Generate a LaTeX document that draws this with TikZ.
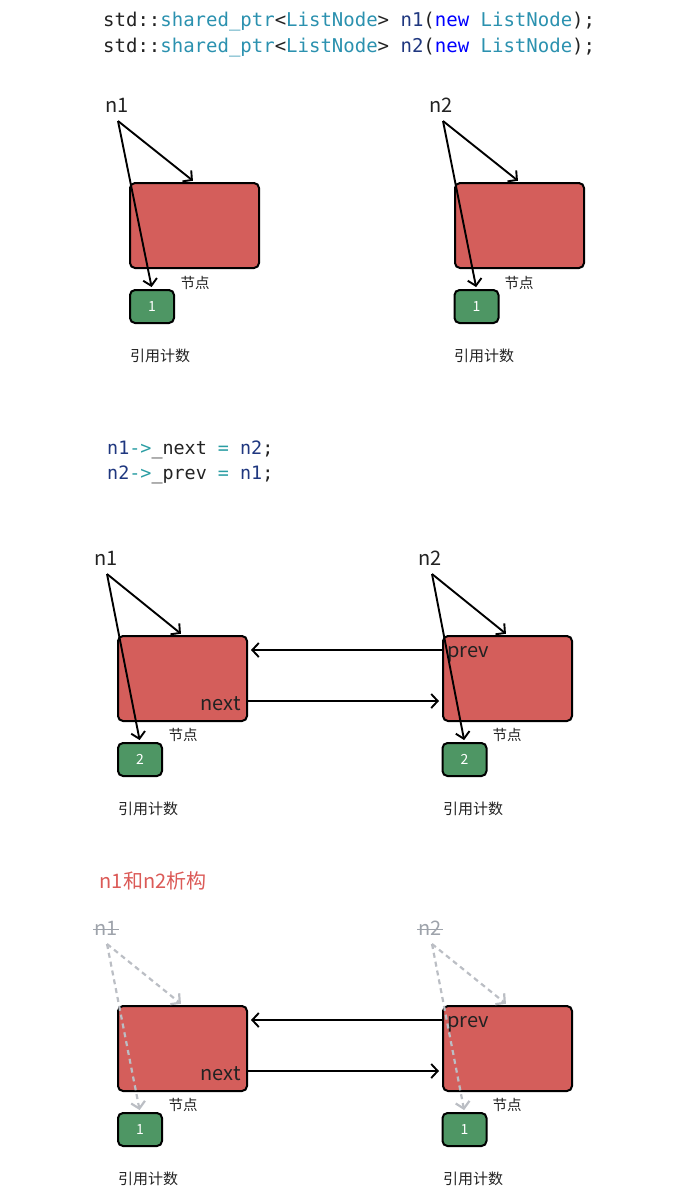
\documentclass[tikz,border=0pt]{standalone}
\usepackage{fontspec}
\setmainfont{Noto Sans CJK SC}
\newfontfamily\codefont{DejaVu Sans Mono}
\usetikzlibrary{arrows.meta}
\definecolor{nodered}{HTML}{D45E5B}
\definecolor{nodegreen}{HTML}{4E9664}
\definecolor{ctype}{HTML}{2B91AF}
\definecolor{cvar}{HTML}{1F377F}
\definecolor{ckw}{HTML}{0000FF}
\definecolor{cop}{HTML}{2A9DA3}
\definecolor{dgray}{HTML}{BBBEC4}
\definecolor{tgray}{HTML}{9EA3AB}
\definecolor{titlered}{HTML}{DB5A57}
\definecolor{ink}{HTML}{222222}
\tikzset{
  rednode/.style={draw=black, line width=2pt, fill=nodered, rounded corners=5pt, minimum width=129pt, minimum height=85pt, inner sep=0pt},
  cntbox/.style={draw=black, line width=2pt, fill=nodegreen, rounded corners=5pt, minimum width=44pt, minimum height=33pt, inner sep=0pt, text=white, font=\fontsize{14}{14}\selectfont},
  ptrlabel/.style={text=ink, font=\fontsize{20}{20}\selectfont, inner sep=0pt},
  fieldlabel/.style={text=ink, font=\fontsize{20}{20}\selectfont, inner sep=0pt},
  smalllabel/.style={text=ink, font=\fontsize{14.5}{14.5}\selectfont, inner sep=0pt},
  cntlabel/.style={text=ink, font=\fontsize{15}{15}\selectfont, inner sep=0pt},
  codeline/.style={anchor=base west, inner sep=0pt, text=ink},
  ptr/.style={line width=1.9pt, draw=black, -{Straight Barb[length=6.5pt,width=14pt]}, shorten >=2pt},
  dptr/.style={line width=2.2pt, draw=dgray, dash pattern=on 5pt off 4pt, -{Straight Barb[length=6.5pt,width=14pt]}, shorten >=2pt},
  link/.style={line width=1.9pt, draw=black, -{Straight Barb[length=6.5pt,width=14pt]}, shorten >=3pt},
}
\begin{document}
\begin{tikzpicture}[x=1pt,y=-1pt]
\useasboundingbox (0,0) rectangle (697,1195);
% ---- code 1
\node[codeline, font=\codefont\fontsize{19}{19}\selectfont] (code1) at (103,26)
  {std::\textcolor{ctype}{shared\_ptr}<\textcolor{ctype}{ListNode}> \textcolor{cvar}{n1}(\textcolor{ckw}{new} \textcolor{ctype}{ListNode});};
\node[codeline, font=\codefont\fontsize{19}{19}\selectfont] (code2) at (103,52)
  {std::\textcolor{ctype}{shared\_ptr}<\textcolor{ctype}{ListNode}> \textcolor{cvar}{n2}(\textcolor{ckw}{new} \textcolor{ctype}{ListNode});};

% ---- section 1
\node[rednode] (r1) at (194.5,225.5) {};
\node[cntbox] (g1) at (152,306.5) {1};
\node[rednode] (r2) at (519.5,225.5) {};
\node[cntbox] (g2) at (476.5,306.5) {1};
\node[ptrlabel] (p1) at (117,105) {n1};
\node[ptrlabel] (p2) at (441,105) {n2};
\node[smalllabel] (k1) at (195,283) {节点};
\node[smalllabel] (k2) at (519,283) {节点};
\node[cntlabel] (c1) at (160,356) {引用计数};
\node[cntlabel] (c2) at (484,356) {引用计数};
\coordinate (s1) at (118,121);
\coordinate (s2) at (443,121);
\draw[ptr] (s1) -- (r1.north);
\draw[ptr] (s1) -- (g1.north);
\draw[ptr] (s2) -- (r2.north);
\draw[ptr] (s2) -- (g2.north);

% ---- code 2
\node[codeline, font=\codefont\fontsize{18.4}{18.4}\selectfont] (code3) at (107,454)
  {\textcolor{cvar}{n1}\textcolor{cop}{->}\_next \textcolor{cop}{=} \textcolor{cvar}{n2};};
\node[codeline, font=\codefont\fontsize{18.4}{18.4}\selectfont] (code4) at (107,479)
  {\textcolor{cvar}{n2}\textcolor{cop}{->}\_prev \textcolor{cop}{=} \textcolor{cvar}{n1};};

% ---- section 2
\node[rednode] (rA) at (182.5,678.5) {};
\node[cntbox] (gA) at (140,759.5) {2};
\node[rednode] (rB) at (507.5,678.5) {};
\node[cntbox] (gB) at (464.5,759.5) {2};
\node[fieldlabel] (nxA) at (220.5,704) {next};
\node[fieldlabel] (pvB) at (468,654.5) {prev};
\node[ptrlabel] (pA) at (106,558) {n1};
\node[ptrlabel] (pB) at (430,558) {n2};
\node[smalllabel] (kA) at (183,735) {节点};
\node[smalllabel] (kB) at (507,735) {节点};
\node[cntlabel] (cA) at (148,809) {引用计数};
\node[cntlabel] (cB) at (473,809) {引用计数};
\draw[link] ([yshift=-22.5pt]rA.east) -- ([yshift=-22.5pt]rB.west);
\draw[link] ([yshift=28.5pt]rB.west) -- ([yshift=28.5pt]rA.east);
\coordinate (sA) at (107,574);
\coordinate (sB) at (432,574);
\draw[ptr] (sA) -- (rA.north);
\draw[ptr] (sA) -- (gA.north);
\draw[ptr] (sB) -- (rB.north);
\draw[ptr] (sB) -- (gB.north);

% ---- section 3
\node[text=titlered, font=\fontsize{20}{20}\selectfont, inner sep=0pt] (title) at (153,881) {n1和n2析构};
\node[rednode] (rC) at (182.5,1048.5) {};
\node[cntbox] (gC) at (140,1129.5) {1};
\node[rednode] (rD) at (507.5,1048.5) {};
\node[cntbox] (gD) at (464.5,1129.5) {1};
\node[fieldlabel] (nxC) at (220.5,1074) {next};
\node[fieldlabel] (pvD) at (468,1024.5) {prev};
\node[ptrlabel, text=tgray] (pC) at (106,928) {n1};
\node[ptrlabel, text=tgray] (pD) at (430,928) {n2};
\draw[tgray, line width=1.1pt] ([xshift=-1pt,yshift=-1.5pt]pC.west) -- ([xshift=1pt,yshift=-1.5pt]pC.east);
\draw[tgray, line width=1.1pt] ([xshift=-1pt,yshift=-1.5pt]pD.west) -- ([xshift=1pt,yshift=-1.5pt]pD.east);
\node[smalllabel] (kC) at (183,1105) {节点};
\node[smalllabel] (kD) at (507,1105) {节点};
\node[cntlabel] (cC) at (148,1179) {引用计数};
\node[cntlabel] (cD) at (473,1179) {引用计数};
\draw[link] ([yshift=-22.5pt]rC.east) -- ([yshift=-22.5pt]rD.west);
\draw[link] ([yshift=28.5pt]rD.west) -- ([yshift=28.5pt]rC.east);
\coordinate (sC) at (107,944);
\coordinate (sD) at (432,944);
\draw[dptr] (sC) -- (rC.north);
\draw[dptr] (sC) -- (gC.north);
\draw[dptr] (sD) -- (rD.north);
\draw[dptr] (sD) -- (gD.north);
\end{tikzpicture}
\end{document}
